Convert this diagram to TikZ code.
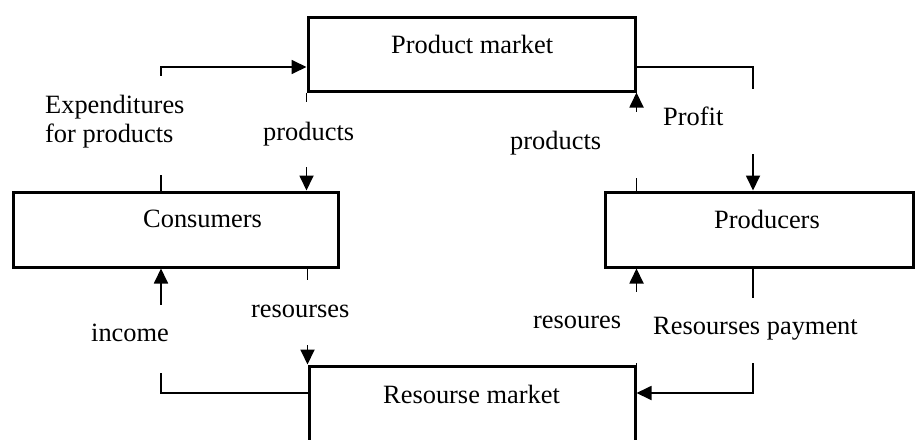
\documentclass[tikz,border=0pt]{standalone}
\usepackage{fontspec}
\setmainfont{Liberation Serif}
\usetikzlibrary{arrows.meta}
\begin{document}
\begin{tikzpicture}[x=1pt,y=-1pt,
  box/.style={draw, line width=3pt, rectangle, inner sep=0pt},
  conn/.style={line width=1.8pt},
  arr/.style={conn, -{Triangle[length=15pt,width=14pt]}},
  lbl/.style={anchor=base west, inner sep=0pt, font=\fontsize{26.4}{30}\selectfont},
  gapmask/.style={fill=white}]
\useasboundingbox (0,0) rectangle (920,439);
\clip (0,0) rectangle (920,439);
% boxes
\node[box, minimum width=327pt, minimum height=74pt] (pm) at (471.5,54) {};
\node[box, minimum width=325pt, minimum height=75pt] (cons) at (175.5,229.5) {};
\node[box, minimum width=308pt, minimum height=75pt] (prod) at (759,229.5) {};
\node[box, minimum width=326pt, minimum height=79pt] (rm) at (472,405.5) {};
% helper coordinates
\coordinate (c1) at (161,67);
\coordinate (c2) at (753,67);
\coordinate (c3) at (161,393);
\coordinate (c4) at (753,393);
% connectors
\draw[arr] (cons.north -| c1) |- (pm.west |- c1);
\draw[arr] (pm.east |- c2) -| (prod.north -| c2);
\draw[arr] (pm.south west) -- (pm.south west |- cons.north);
\draw[arr] (pm.south east |- prod.north) -- (pm.south east);
\draw[arr] (rm.west |- c3) -| (cons.south -| c3);
\draw[arr] (rm.north west |- cons.south) -- (rm.north west);
\draw[arr] (rm.north east) -- (rm.north east |- prod.south);
\draw[arr] (prod.south -| c4) |- (rm.east |- c4);
% gaps behind the labels
\fill[gapmask] (155,76) rectangle (167,175);
\fill[gapmask] (303,102) rectangle (315,167);
\fill[gapmask] (629,112) rectangle (641,178);
\fill[gapmask] (747,89) rectangle (759,154);
\fill[gapmask] (155,305) rectangle (167,373);
\fill[gapmask] (303,280) rectangle (315,345);
\fill[gapmask] (629,292) rectangle (641,363);
\fill[gapmask] (747,298) rectangle (759,363);
% box texts
\node[lbl] (tpm) at (391,53) {Product market};
\node[lbl] (tcons) at (143,227) {Consumers};
\node[lbl] (tprod) at (714,228) {Producers};
\node[lbl] (trm) at (383,403) {Resourse market};
% connector labels
\node[lbl] (exp1) at (45,113) {Expenditures};
\node[lbl] (exp2) at (45,142) {for products};
\node[lbl] (prl) at (263,140) {products};
\node[lbl] (prr) at (510,149) {products};
\node[lbl] (prof) at (663,125) {Profit};
\node[lbl] (inc) at (91,341) {income};
\node[lbl] (resl) at (251,317) {resourses};
\node[lbl] (resr) at (533,328) {resoures};
\node[lbl] (pay) at (653,334) {Resourses payment};
\end{tikzpicture}
\end{document}
